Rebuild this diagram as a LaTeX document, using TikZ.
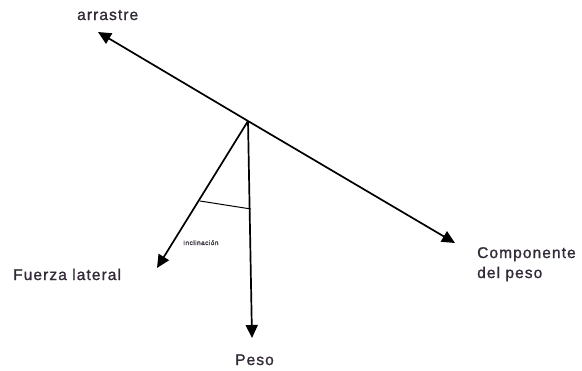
\documentclass[tikz,border=0pt]{standalone}
\usepackage{fontspec}
\setmainfont{Liberation Sans}[LetterSpace=7,FakeBold=1.2]
\usetikzlibrary{arrows.meta}
\definecolor{txt}{rgb}{0.2,0.17,0.22}
\begin{document}
\begin{tikzpicture}[x=1bp,y=-1bp,
  force/.style={line width=1.7bp,black,-{Triangle[length=13bp,width=12bp]}},
  lbl/.style={inner sep=0pt,anchor=base west,text=txt,font=\fontsize{15.5bp}{19bp}\selectfont},
  small/.style={inner sep=0pt,anchor=base west,text=txt,font=\fontsize{6.5bp}{8bp}\selectfont}]
\useasboundingbox (0,0) rectangle (582,370);
\coordinate (O) at (248,121);
\coordinate (A) at (98,32);
\coordinate (C) at (455,243);
\coordinate (L) at (157,268);
\coordinate (P) at (252,338);
\coordinate (I1) at (200,201);
\coordinate (I2) at (251,209);
\draw[force] (O) -- (A);
\draw[force] (O) -- (C);
\draw[force] (O) -- (L);
\draw[force] (O) -- (P);
\draw[line width=1bp,black] (I1) -- (I2);
\node[lbl] (ta) at (77,20) {arrastre};
\node[lbl] (tc) at (477,258) {Componente};
\node[lbl] (td) at (477,278) {del peso};
\node[lbl] (tl) at (13,280) {Fuerza lateral};
\node[lbl] (tp) at (235,365) {Peso};
\node[small] (ti) at (183,245) {Inclinación};
\end{tikzpicture}
\end{document}
